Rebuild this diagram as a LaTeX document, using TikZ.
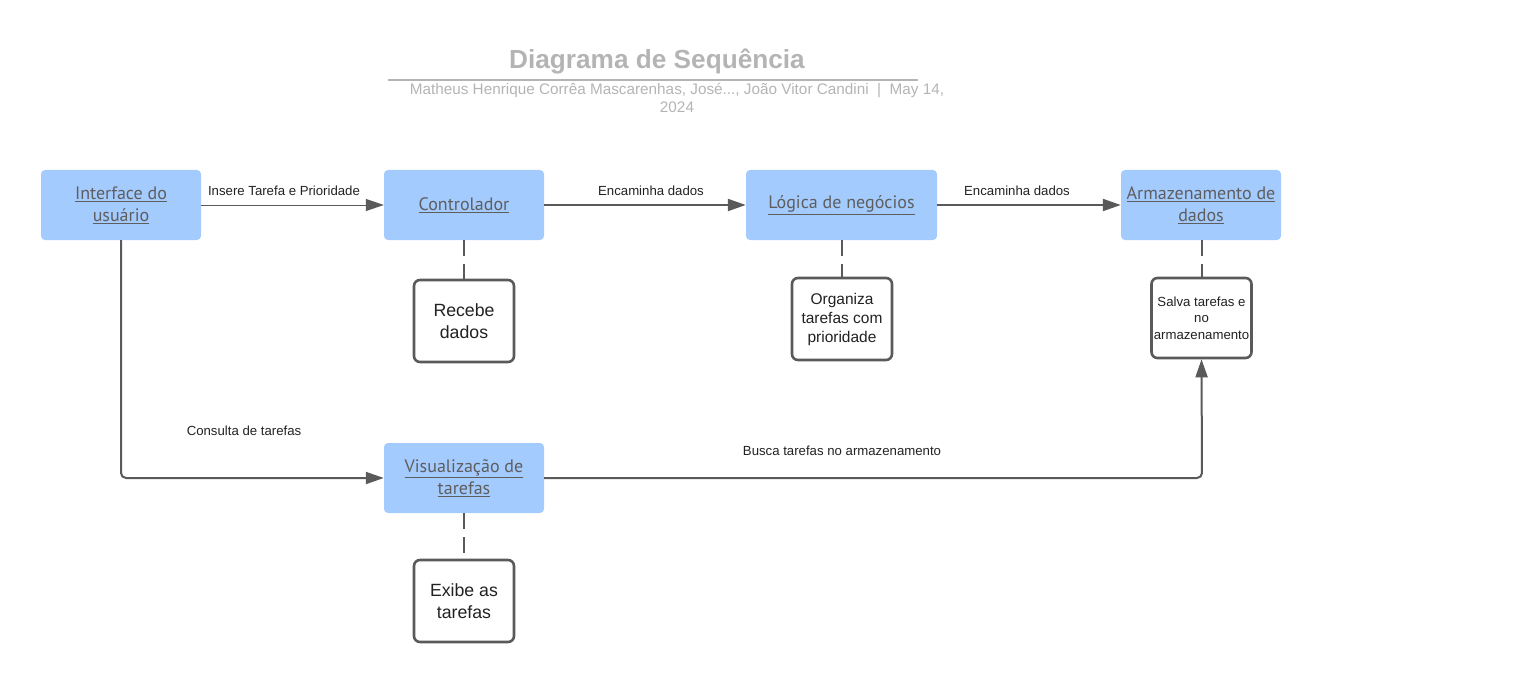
\documentclass[tikz,border=0pt]{standalone}
\usepackage{fontspec}
\setmainfont{Liberation Sans}
\newfontfamily\boxfont{PT Sans}
\usetikzlibrary{arrows.meta}
\definecolor{bluefill}{HTML}{A4CBFE}
\definecolor{txtgrey}{HTML}{5E5E5E}
\definecolor{linegrey}{HTML}{5A5A5A}
\definecolor{titlegrey}{HTML}{B4B4B4}
\definecolor{dark}{HTML}{222222}
\tikzset{
  bluebox/.style={fill=bluefill, draw=none, rounded corners=4pt, minimum width=160pt, minimum height=70pt, align=center, text=txtgrey, font=\boxfont\fontsize{18}{22}\selectfont, inner sep=0pt},
  notebox/.style={draw=linegrey, line width=2.6pt, fill=white, rounded corners=6pt, minimum width=100pt, minimum height=82pt, align=center, text=dark, inner sep=0pt},
  conn/.style={draw=linegrey, line width=2pt, -{Triangle[length=18pt,width=12pt]}},
  thinconn/.style={draw=linegrey, line width=1pt, -{Triangle[length=18pt,width=12pt]}},
  dashconn/.style={draw=linegrey, line width=2pt, dash pattern=on 16pt off 8pt},
  lbl/.style={text=dark, font=\fontsize{13.2}{15}\selectfont, inner sep=0pt},
}
\begin{document}
\begin{tikzpicture}[x=1pt,y=-1pt]
\useasboundingbox (0,0) rectangle (1524,682);
% title
\node[text=titlegrey, font=\bfseries\fontsize{26.2}{30}\selectfont] (title) at (657,61) {Diagrama de Sequência};
\draw[titlegrey, line width=1.5pt] (388,80) -- (918,80);
\node[text=titlegrey, font=\fontsize{15.3}{18}\selectfont, align=center] (sub) at (677,98) {Matheus Henrique Corrêa Mascarenhas, José..., João Vitor Candini \ | \ May 14,\\2024};
% blue nodes
\node[bluebox] (ui) at (121,205) {\underline{Interface do}\\\underline{usuário}};
\node[bluebox] (ctl) at (464,205) {\underline{Controlador}};
\node[bluebox, minimum width=191pt] (log) at (841.5,205) {\underline{Lógica de negócios}};
\node[bluebox] (arm) at (1201,205) {\underline{Armazenamento de}\\\underline{dados}};
\node[bluebox] (vis) at (464,478) {\underline{Visualização de}\\\underline{tarefas}};
% note boxes
\node[notebox, font=\fontsize{17.7}{22}\selectfont] (rec) at (464,321) {Recebe\\dados};
\node[notebox, font=\fontsize{15.5}{19}\selectfont] (org) at (842,319) {Organiza\\tarefas com\\prioridade};
\node[notebox, minimum height=80pt, font=\fontsize{13.2}{16.5}\selectfont] (sal) at (1201.5,318) {Salva tarefas e\\no\\armazenamento};
\node[notebox, font=\fontsize{17.7}{22}\selectfont] (exi) at (464,601) {Exibe as\\tarefas};
% connectors
\draw[thinconn] (ui.east) -- (ctl.west);
\draw[conn] (ctl.east) -- (log.west);
\draw[conn] (log.east) -- (arm.west);
\draw[conn, rounded corners=5pt] (ui.south) -- (121,478) -- (vis.west);
\draw[conn, rounded corners=5pt] (vis.east) -- (1202,478) -- (sal.south);
\draw[dashconn] (ctl.south) -- (rec.north);
\draw[dashconn] (log.south -| org.north) -- (org.north);
\draw[dashconn] (arm.south -| sal.north) -- (sal.north);
\draw[dashconn] (vis.south) -- (exi.north);
% labels
\node[lbl] (l1) at (284,191) {Insere Tarefa e Prioridade};
\node[lbl] (l2) at (651,191) {Encaminha dados};
\node[lbl] (l3) at (1017,191) {Encaminha dados};
\node[lbl] (l4) at (244,431) {Consulta de tarefas};
\node[lbl] (l5) at (842,451) {Busca tarefas no armazenamento};
\end{tikzpicture}
\end{document}
